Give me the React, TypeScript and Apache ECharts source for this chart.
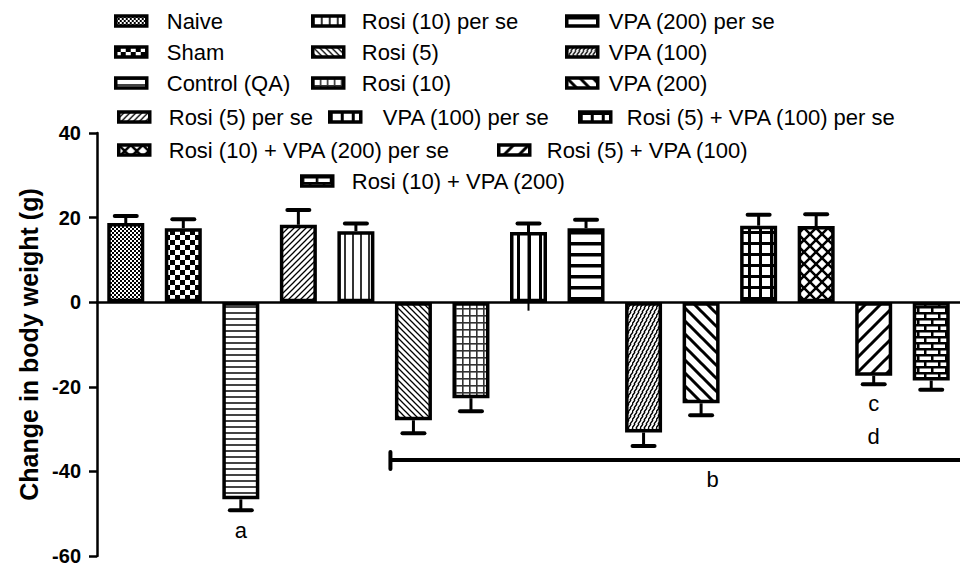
import React, { useEffect, useRef } from 'react';
import * as echarts from 'echarts';

// ---------- data ----------
const categories = [
  'Naive',
  'Sham',
  'Control (QA)',
  'Rosi (5) per se',
  'Rosi (10) per se',
  'Rosi (5)',
  'Rosi (10)',
  'VPA (100) per se',
  'VPA (200) per se',
  'VPA (100)',
  'VPA (200)',
  'Rosi (5) + VPA (100) per se',
  'Rosi (10) + VPA (200) per se',
  'Rosi (5) + VPA (100)',
  'Rosi (10) + VPA (200)',
];
const meanValues = [18.7, 17.5, -46.6, 18.3, 16.8, -27.9, -22.7, 16.6, 17.5, -30.8, -23.9, 18.1, 18.0, -17.4, -18.5];
const errorEnds = [20.4, 19.6, -49.2, 21.8, 18.6, -31.0, -25.8, 18.6, 19.5, -34.0, -26.7, 20.7, 20.8, -19.4, -20.7];
const lowerWhiskerEnds: (number | null)[] = [null, null, null, null, null, null, null, -2, null, null, null, null, null, null, null];

const yMin = -60;
const yMax = 40;
const yStep = 20;
const yAxisTitle = 'Change in body weight (g)';

const annotationLetters = ['a', 'b', 'c', 'd'];
const annotationCats = [2, 10, 13, 13];
const annotationValues = [-54, -41.9, -23.9, -31.7];
const annotationShift = [0, 0.2, 0, 0];
const bracketFromCat = 5;
const bracketToCat = 14;
const bracketValue = -37.3;

// ---------- style / layout ----------
const patternKinds = [
  'fineCheck', 'check', 'hThin', 'fwdThin', 'vThin', 'backThin', 'gridThin',
  'vThick', 'hThick', 'weave', 'backThick', 'gridThick', 'crossThick', 'fwdThick', 'brick',
];
// [iconLeft, rowCenterY, textLeft]
const legendSlots: number[][] = [
  [114, 21, 165],
  [114, 52, 165],
  [114, 83, 165],
  [117, 117, 167],
  [311, 21, 360],
  [311, 52, 360],
  [311, 83, 360],
  [328, 117, 381],
  [565, 21, 607],
  [565, 52, 607],
  [565, 83, 607],
  [578, 117, 625],
  [117, 150, 167],
  [497, 150, 545],
  [300, 181, 350],
];

const FONT = 'Liberation Sans, Arial, Helvetica, sans-serif';

function tile(w: number, h: number, draw: (g: CanvasRenderingContext2D) => void) {
  const c = document.createElement('canvas');
  c.width = w;
  c.height = h;
  const g = c.getContext('2d')!;
  g.fillStyle = '#fff';
  g.fillRect(0, 0, w, h);
  g.fillStyle = '#000';
  g.strokeStyle = '#000';
  draw(g);
  return c;
}

function diag(g: CanvasRenderingContext2D, s: number, lw: number, dir: number) {
  g.lineWidth = lw;
  g.beginPath();
  for (let k = -1; k <= 1; k++) {
    if (dir > 0) {
      g.moveTo(k * s - 2, s + 2);
      g.lineTo(k * s + s + 2, -2);
    } else {
      g.moveTo(k * s - 2, -2);
      g.lineTo(k * s + s + 2, s + 2);
    }
  }
  g.stroke();
}

function makePattern(kind: string): any {
  let c: HTMLCanvasElement;
  switch (kind) {
    case 'fineCheck':
      c = tile(4, 4, (g) => { g.fillRect(0, 0, 2, 2); g.fillRect(2, 2, 2, 2); });
      break;
    case 'check':
      c = tile(10, 10, (g) => { g.fillRect(0, 0, 5, 5); g.fillRect(5, 5, 5, 5); });
      break;
    case 'hThin':
      c = tile(4, 6, (g) => { g.fillStyle = '#444'; g.fillRect(0, 0, 4, 2); });
      break;
    case 'fwdThin':
      c = tile(6, 6, (g) => diag(g, 6, 1.3, 1));
      break;
    case 'vThin':
      c = tile(8, 4, (g) => { g.fillStyle = '#333'; g.fillRect(0, 0, 2, 4); });
      break;
    case 'backThin':
      c = tile(6, 6, (g) => diag(g, 6, 1.3, -1));
      break;
    case 'gridThin':
      c = tile(7, 7, (g) => { g.fillStyle = '#333'; g.fillRect(0, 0, 7, 1.6); g.fillRect(0, 0, 1.6, 7); });
      break;
    case 'vThick':
      c = tile(11, 4, (g) => g.fillRect(0, 0, 3, 4));
      break;
    case 'hThick':
      c = tile(4, 11, (g) => g.fillRect(0, 0, 4, 3.5));
      break;
    case 'weave':
      c = tile(8, 8, (g) => {
        g.lineWidth = 1.4;
        g.beginPath();
        g.moveTo(0, 4); g.lineTo(3, 0);
        g.moveTo(4, 4); g.lineTo(7, 0);
        g.moveTo(-2, 8); g.lineTo(1, 4);
        g.moveTo(2, 8); g.lineTo(5, 4);
        g.moveTo(6, 8); g.lineTo(9, 4);
        g.stroke();
      });
      break;
    case 'backThick':
      c = tile(13, 13, (g) => diag(g, 13, 3, -1));
      break;
    case 'gridThick':
      c = tile(11, 11, (g) => { g.fillRect(0, 0, 11, 3); g.fillRect(0, 0, 3, 11); });
      break;
    case 'crossThick':
      c = tile(12, 12, (g) => { diag(g, 12, 2.5, 1); diag(g, 12, 2.5, -1); });
      break;
    case 'fwdThick':
      c = tile(15, 15, (g) => diag(g, 15, 3, 1));
      break;
    case 'brick':
    default:
      c = tile(14, 12, (g) => {
        g.fillRect(0, 0, 14, 2.5);
        g.fillRect(0, 6, 14, 2.5);
        g.fillRect(0, 0, 2.5, 6);
        g.fillRect(7, 6, 2.5, 6);
      });
      break;
  }
  return { image: c, repeat: 'repeat' };
}

export default function App() {
  const ref = useRef<HTMLDivElement>(null);

  useEffect(() => {
    document.body.style.margin = '0';
    const chart = echarts.init(ref.current!, undefined, { renderer: 'svg' });
    const patterns = patternKinds.map(makePattern);

    const barSeries = categories.map((name, i) => ({
      type: 'bar',
      name,
      stack: 'all',
      barWidth: 37,
      data: meanValues.map((v, j) => (j === i ? v : null)),
      itemStyle: { color: patterns[i], borderColor: '#000', borderWidth: 3.5 },
      emphasis: { disabled: true },
      z: 2,
    }));

    const legends = categories.map((name, i) => {
      const [iconLeft, cy, textLeft] = legendSlots[i];
      const itemWidth = 31;
      return {
        data: [name],
        left: iconLeft,
        top: cy - 11,
        icon: 'rect',
        itemWidth,
        itemHeight: 10,
        selectedMode: false,
        padding: 0,
        itemStyle: { borderColor: '#000', borderWidth: 3.5 },
        textStyle: {
          fontSize: 22,
          lineHeight: 22,
          fontFamily: FONT,
          color: '#000',
          padding: [0, 0, 0, textLeft - iconLeft - itemWidth - 5],
        },
      };
    });

    const errorSeries = {
      type: 'custom',
      name: 'error',
      silent: true,
      z: 5,
      data: meanValues.map((v, i) => [i, v, errorEnds[i]]),
      encode: { x: 0, y: [1, 2] },
      renderItem: (params: any, api: any) => {
        const i = api.value(0);
        const p0 = api.coord([i, api.value(1)]);
        const p1 = api.coord([i, api.value(2)]);
        const children: any[] = [
          { type: 'line', shape: { x1: p0[0], y1: p0[1], x2: p1[0], y2: p1[1] }, style: { stroke: '#000', lineWidth: 3 } },
          { type: 'line', shape: { x1: p1[0] - 11, y1: p1[1], x2: p1[0] + 11, y2: p1[1] }, style: { stroke: '#000', lineWidth: 4, lineCap: 'round' } },
        ];
        const low = lowerWhiskerEnds[i];
        if (low != null) {
          const p2 = api.coord([i, low]);
          children.push({ type: 'line', shape: { x1: p0[0], y1: p0[1], x2: p2[0], y2: p2[1] }, style: { stroke: '#000', lineWidth: 2 } });
        }
        return { type: 'group', children };
      },
    };

    const letterSeries = {
      type: 'custom',
      name: 'letters',
      silent: true,
      z: 6,
      data: annotationLetters.map((_, k) => [annotationCats[k], annotationValues[k]]),
      encode: { x: 0, y: 1 },
      renderItem: (params: any, api: any) => {
        const k = params.dataIndex;
        const p = api.coord([api.value(0), api.value(1)]);
        const band = api.coord([1, 0])[0] - api.coord([0, 0])[0];
        return {
          type: 'text',
          x: p[0] + annotationShift[k] * band,
          y: p[1],
          style: {
            text: annotationLetters[k],
            fontSize: 22,
            fontFamily: FONT,
            fill: '#000',
            align: 'center',
            verticalAlign: 'middle',
          },
        };
      },
    };

    const bracketSeries = {
      type: 'custom',
      name: 'bracket',
      silent: true,
      z: 6,
      data: [[bracketFromCat, bracketValue, bracketToCat]],
      encode: { x: 0, y: 1 },
      renderItem: (params: any, api: any) => {
        const a = api.coord([api.value(0), api.value(1)]);
        const b = api.coord([api.value(2), api.value(1)]);
        const band = api.coord([1, 0])[0] - api.coord([0, 0])[0];
        const x1 = a[0] - 0.4 * band;
        const x2 = b[0] + band;
        return {
          type: 'group',
          children: [
            { type: 'line', shape: { x1, y1: a[1], x2, y2: a[1] }, style: { stroke: '#000', lineWidth: 4 } },
            { type: 'line', shape: { x1, y1: a[1] - 8, x2: x1, y2: a[1] + 9 }, style: { stroke: '#000', lineWidth: 4, lineCap: 'round' } },
          ],
        };
      },
    };

    chart.setOption({
      animation: false,
      backgroundColor: '#fff',
      textStyle: { fontFamily: FONT },
      legend: legends,
      grid: { left: 97, top: 133, width: 872, height: 423, containLabel: false },
      xAxis: {
        type: 'category',
        data: categories,
        boundaryGap: true,
        axisLine: { show: true, onZero: true, lineStyle: { color: '#000', width: 2.5 } },
        axisTick: { show: false },
        axisLabel: { show: false },
        splitLine: { show: false },
      },
      yAxis: {
        type: 'value',
        min: yMin,
        max: yMax,
        interval: yStep,
        name: yAxisTitle,
        nameLocation: 'middle',
        nameGap: 49,
        nameTextStyle: { fontSize: 25, fontWeight: 'bold', color: '#000', fontFamily: FONT },
        axisLine: { show: true, lineStyle: { color: '#000', width: 2.5 } },
        axisTick: { show: true, length: 8, lineStyle: { color: '#000', width: 2.5 } },
        axisLabel: { fontSize: 20, fontWeight: 'bold', color: '#000', margin: 16, fontFamily: FONT },
        splitLine: { show: false },
      },
      series: [...barSeries, errorSeries, bracketSeries, letterSeries],
    });

    return () => chart.dispose();
  }, []);

  return (
    <div
      ref={ref}
      style={{ position: 'fixed', left: 0, top: 0, width: 960, height: 568, background: '#fff' }}
    />
  );
}
